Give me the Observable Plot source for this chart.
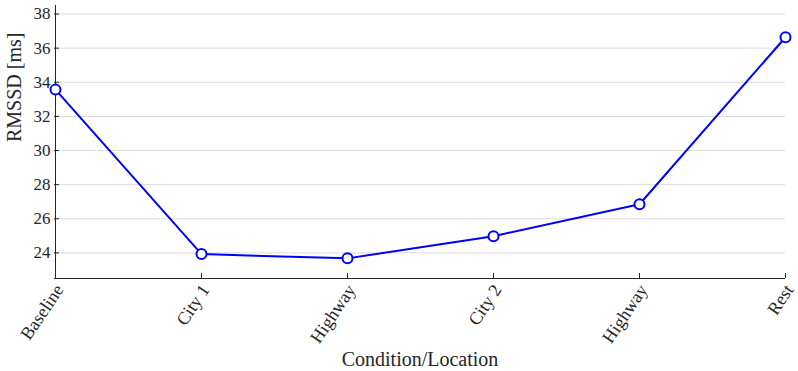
<!DOCTYPE html>
<html><head><meta charset="utf-8">
<script src="https://cdn.jsdelivr.net/npm/d3@7"></script>
<script src="https://cdn.jsdelivr.net/npm/@observablehq/plot@0.6"></script>
<style>body{margin:0;background:#fff}</style>
</head><body><div id="chart"></div>
<script>
const categories = ["Baseline", "City 1", "Highway", "City 2", "Highway", "Rest"];
const rmssd = [33.57, 23.93, 23.68, 24.98, 26.85, 36.64];
const yTicks = [24, 26, 28, 30, 32, 34, 36, 38];
const yDomain = [22.5, 38.5];

const data = categories.map((c, i) => ({i, c, v: rmssd[i]}));
const idx = data.map(d => d.i);
const font = "'Liberation Serif', 'DejaVu Serif', serif";
const ink = "#262626";

const chart = Plot.plot({
  width: 798, height: 371,
  marginLeft: 54, marginRight: 13, marginTop: 5, marginBottom: 93,
  style: {fontFamily: font, fontSize: "17px", color: ink, background: "#fff"},
  x: {type: "point", domain: idx, padding: 0},
  y: {domain: yDomain},
  marks: [
    Plot.gridY(yTicks, {stroke: "#dcdcdc", strokeOpacity: 1, strokeWidth: 1}),
    Plot.ruleX([idx[0]], {stroke: ink}),
    Plot.ruleY([yDomain[0]], {stroke: ink}),
    Plot.axisY({ticks: yTicks, tickSize: -5, tickPadding: 9, stroke: ink, fontSize: 17, label: null}),
    Plot.axisX({ticks: idx, tickSize: -5, text: null, stroke: ink, label: null}),
    Plot.axisX({ticks: idx, tickSize: 0, tickPadding: 8, tickRotate: -56, dx: 4, tickFormat: i => categories[i], fontSize: 18, label: null}),
    Plot.line(data, {x: "i", y: "v", stroke: "#0000ff", strokeWidth: 2}),
    Plot.dot(data, {x: "i", y: "v", r: 5, stroke: "#0000ff", strokeWidth: 2, fill: "#fff"}),
    Plot.text(["Condition/Location"], {frameAnchor: "bottom", dy: 87, fontSize: 20, fill: ink}),
    Plot.text(["RMSSD [ms]"], {frameAnchor: "left", dx: -40, rotate: -90, fontSize: 20, fill: ink})
  ]
});
document.getElementById("chart").appendChild(chart);
</script></body></html>
